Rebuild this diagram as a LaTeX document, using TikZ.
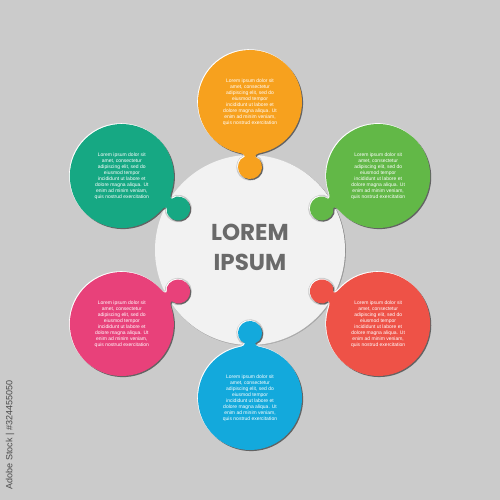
\documentclass[tikz,border=0pt]{standalone}
\usepackage{fontspec}
\setmainfont{Liberation Sans}
\newfontfamily\titlefont{Poppins}
\definecolor{bggray}{HTML}{CBCBCB}
\definecolor{paper}{HTML}{F2F2F2}
\definecolor{shade}{HTML}{4A4A4A}
\definecolor{corange}{HTML}{F7A11E}
\definecolor{cgreen}{HTML}{62B847}
\definecolor{cred}{HTML}{EE5247}
\definecolor{cblue}{HTML}{13A9DC}
\definecolor{cpink}{HTML}{E8417A}
\definecolor{cteal}{HTML}{16A883}
\definecolor{titlegray}{HTML}{6A6A6A}
\newcommand\tabp[1]{\path[#1] (97.9,-14) .. controls (96.8,-10.1) and (96.5,-5.2) .. (93.5,-5.2)
  .. controls (92,-5.2) and (92.23,-7.9) .. (90.7,-9.19)
  arc[start angle=-50,end angle=-310,radius=12]
  .. controls (92.23,7.9) and (92,5.2) .. (93.5,5.2)
  .. controls (96.5,5.2) and (96.8,10.1) .. (97.9,14)
  arc[start angle=164.4,end angle=-164.4,radius=52] -- cycle;}
\newcommand\piecegap[1]{\begin{scope}[rotate=#1]\tabp{draw=bggray,line width=3.4}\end{scope}}
\newcommand\piecefill[2]{%
  \begin{scope}[shift={(1.1,-1.1)},rotate=#1]\tabp{fill=shade,fill opacity=0.8}\end{scope}
  \begin{scope}[shift={(-0.8,0.8)},rotate=#1]\tabp{fill=white}\end{scope}
  \begin{scope}[rotate=#1]\tabp{fill=#2}\end{scope}}
\newcommand\lorembody{Lorem ipsum dolor sit\\amet, consectetur\\adipiscing elit, sed do\\eiusmod tempor\\incididunt ut labore et\\dolore magna aliqua. Ut\\enim ad minim veniam,\\quis nostrud exercitation}
\tikzset{
  bodytext/.style={align=center,text=white,inner sep=0pt,font=\fontsize{5}{6}\selectfont},
  titletext/.style={anchor=base,text=titlegray,inner sep=0pt,font=\titlefont\bfseries\fontsize{23}{26}\selectfont},
  marktext/.style={rotate=90,text=shade,inner sep=0pt,font=\fontsize{9}{10}\selectfont}
}
\begin{document}
\begin{tikzpicture}[x=1pt,y=1pt]
\useasboundingbox (-250,-250) rectangle (250,250);
\fill[bggray] (-250,-250) rectangle (250,250);
% center disc
\fill[shade,opacity=0.5] (0.8,-0.8) circle[radius=95];
\fill[paper] (0,0) circle[radius=95];
% gaps
\foreach \a in {90,30,-30,-90,210,150}{\piecegap{\a}}
% pieces
\piecefill{90}{corange}
\piecefill{30}{cgreen}
\piecefill{-30}{cred}
\piecefill{-90}{cblue}
\piecefill{210}{cpink}
\piecefill{150}{cteal}
% texts
\node[bodytext] (t1) at (90:148) {\lorembody};
\node[bodytext] (t2) at (30:148) {\lorembody};
\node[bodytext] (t3) at (-30:148) {\lorembody};
\node[bodytext] (t4) at (-90:148) {\lorembody};
\node[bodytext] (t5) at (210:148) {\lorembody};
\node[bodytext] (t6) at (150:148) {\lorembody};
\node[titletext] (l1) at (0,9.3) {LOREM};
\node[titletext] (l2) at (0,-20.7) {IPSUM};
\node[marktext] (wm) at (-240,-185) {Adobe Stock | \#324455050};
\end{tikzpicture}
\end{document}
